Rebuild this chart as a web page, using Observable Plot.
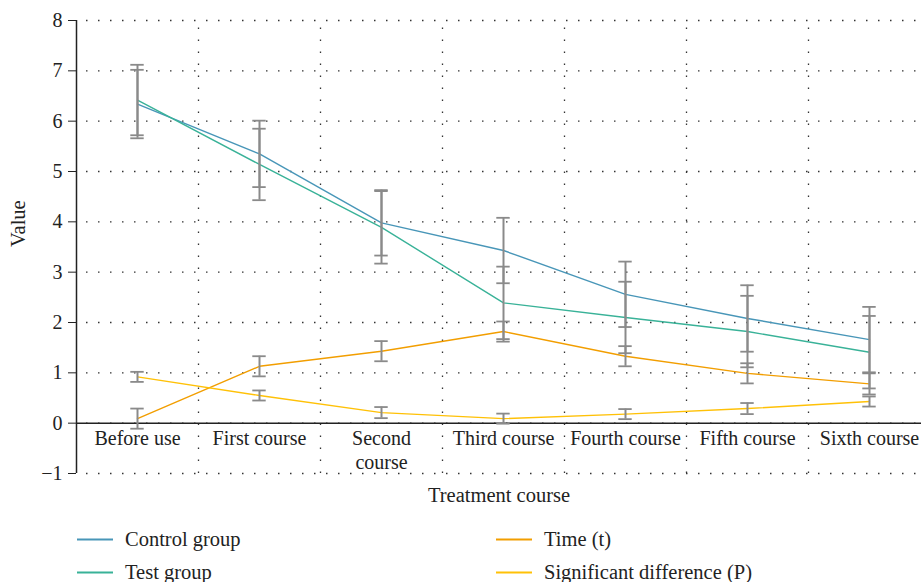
<!DOCTYPE html>
<html>
<head>
<meta charset="utf-8">
<script src="https://cdn.jsdelivr.net/npm/d3@7"></script>
<script src="https://cdn.jsdelivr.net/npm/@observablehq/plot@0.6"></script>
<style>
  html, body { margin: 0; padding: 0; background: #fff; }
  body { width: 921px; height: 582px; overflow: hidden; font-family: "Liberation Serif", "DejaVu Serif", serif; }
  #legend { position: relative; height: 70px; font-size: 20.5px; color: #222; }
  .item { position: absolute; display: flex; align-items: center; }
  .sw { width: 36px; height: 0; border-top: 2px solid; margin-right: 12px; }
</style>
</head>
<body>
<div id="chart"></div>
<div id="legend"></div>
<script>
const categories = ["Before use", "First course", "Second\ncourse", "Third course", "Fourth course", "Fifth course", "Sixth course"];
const seriesNames = ["Control group", "Test group", "Time (t)", "Significant difference (P)"];
const seriesColors = ["#4896b8", "#39b298", "#f29e00", "#ffc107"];
const controlValues = [6.34, 5.35, 3.98, 3.43, 2.56, 2.08, 1.66];
const controlErrors = [0.68, 0.66, 0.65, 0.65, 0.65, 0.66, 0.65];
const testValues = [6.42, 5.14, 3.89, 2.39, 2.10, 1.82, 1.41];
const testErrors = [0.70, 0.71, 0.72, 0.72, 0.71, 0.71, 0.72];
const timeValues = [0.09, 1.13, 1.43, 1.82, 1.33, 0.99, 0.78];
const timeErrors = [0.20, 0.20, 0.20, 0.20, 0.20, 0.20, 0.21];
const pValues = [0.92, 0.55, 0.21, 0.09, 0.18, 0.29, 0.43];
const pErrors = [0.10, 0.10, 0.11, 0.10, 0.10, 0.11, 0.10];
const yTicks = [-1, 0, 1, 2, 3, 4, 5, 6, 7, 8];

const valueSets = [controlValues, testValues, timeValues, pValues];
const errorSets = [controlErrors, testErrors, timeErrors, pErrors];
const rows = [];
valueSets.forEach((vals, s) => vals.forEach((v, i) => rows.push({
  series: seriesNames[s], i, v, lo: v - errorSets[s][i], hi: v + errorSets[s][i]
})));
const idx = categories.map((c, i) => i);
const bounds = idx.slice(1).map(i => i - 0.5);

const font = "Liberation Serif, DejaVu Serif, serif";
const chart = Plot.plot({
  width: 921,
  height: 512,
  marginLeft: 76,
  marginRight: 0,
  marginTop: 20,
  marginBottom: 39,
  style: { fontFamily: font, fontSize: "20px", color: "#222", background: "#fff" },
  x: { type: "linear", domain: [-0.5, 6.5], range: [76, 930], axis: null },
  y: { type: "linear", domain: [-1, 8], axis: null },
  color: { domain: seriesNames, range: seriesColors },
  marks: [
    Plot.ruleY(yTicks, { stroke: "#333", strokeWidth: 1.3, strokeDasharray: "1.5,10.5", strokeDashoffset: -10 }),
    Plot.ruleX(bounds, { x: d => d, y1: -1, y2: 8, stroke: "#333", strokeWidth: 1.3, strokeDasharray: "1.5,10.5" }),
    Plot.ruleY([0], { stroke: "#222", strokeWidth: 1.5 }),
    Plot.ruleX([-0.5], { x: d => d, y1: -1, y2: 8, stroke: "#222", strokeWidth: 1.5 }),
    Plot.axisY({ ticks: yTicks, tickSize: 8, tickPadding: 6, tickFormat: d => d < 0 ? "\u2212" + Math.abs(d) : String(d), label: null, fontSize: 20, stroke: "#222" }),
    Plot.line(rows, { x: "i", y: "v", z: "series", stroke: "series", strokeWidth: 1.4 }),
    Plot.ruleX(rows, { x: "i", y1: "lo", y2: "hi", stroke: "#8a8a8a", strokeWidth: 2 }),
    Plot.ruleY(rows, { y: "hi", x1: d => d.i - 0.055, x2: d => d.i + 0.055, stroke: "#8a8a8a", strokeWidth: 1.8 }),
    Plot.ruleY(rows, { y: "lo", x1: d => d.i - 0.055, x2: d => d.i + 0.055, stroke: "#8a8a8a", strokeWidth: 1.8 }),
    Plot.text(idx, { x: d => d, y: 0, text: d => categories[d], dy: 5, lineAnchor: "top", lineHeight: 1.2, fill: "#222", fontSize: 20 }),
    Plot.text(["Treatment course"], { frameAnchor: "bottom", dy: 28, fill: "#222", fontSize: 20.5 }),
    Plot.text(["Value"], { frameAnchor: "left", dx: -58, rotate: -90, fill: "#222", fontSize: 20.5 })
  ]
});
document.getElementById("chart").appendChild(chart);

const legend = document.getElementById("legend");
const positions = [[77, 27], [77, 60], [496, 27], [496, 60]];
seriesNames.forEach((name, s) => {
  const el = document.createElement("div");
  el.className = "item";
  el.style.left = positions[s][0] + "px";
  el.style.top = positions[s][1] + "px";
  el.style.transform = "translateY(-50%)";
  const sw = document.createElement("span");
  sw.className = "sw";
  sw.style.borderColor = seriesColors[s];
  const tx = document.createElement("span");
  tx.textContent = name;
  el.appendChild(sw); el.appendChild(tx);
  legend.appendChild(el);
});
</script>
</body>
</html>
